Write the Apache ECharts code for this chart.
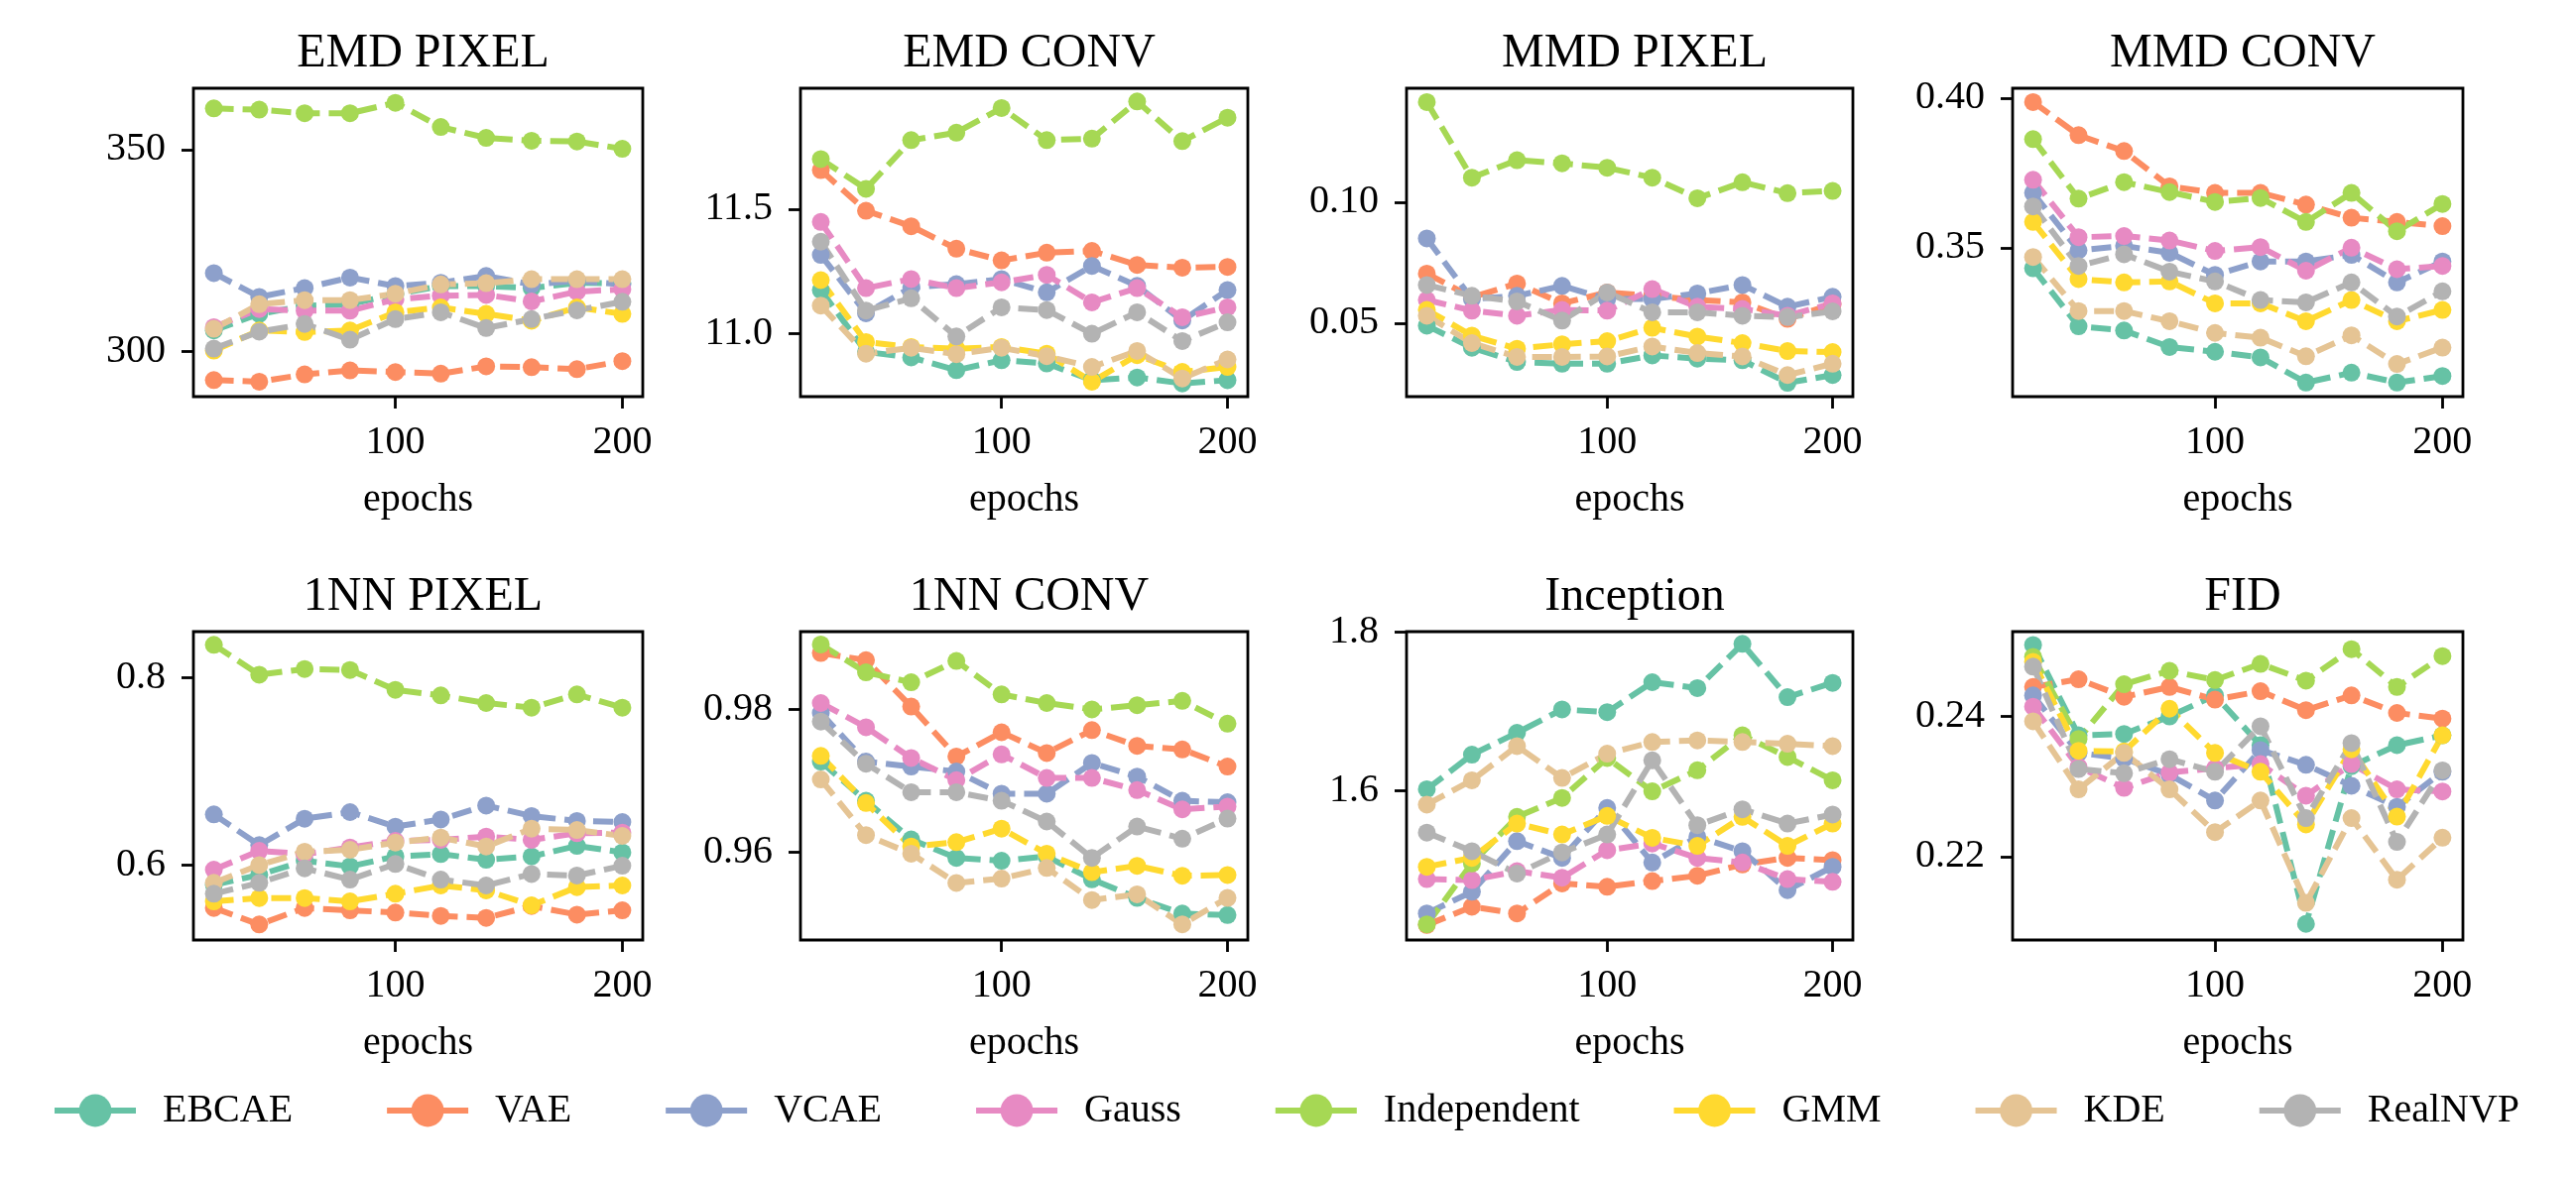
<!DOCTYPE html>
<html>
<head>
<meta charset="utf-8">
<script src="https://cdn.jsdelivr.net/npm/echarts@6/dist/echarts.min.js"></script>
<style>html,body{margin:0;padding:0;background:#fff;}#c{width:2597px;height:1187px;}</style>
</head>
<body>
<div id="c"></div>
<script>
// ---------- DATA ----------
const epochs = [20, 40, 60, 80, 100, 120, 140, 160, 180, 200];
const seriesNames = ['EBCAE', 'VAE', 'VCAE', 'Gauss', 'Independent', 'GMM', 'KDE', 'RealNVP'];
const panelTitles = ['EMD PIXEL', 'EMD CONV', 'MMD PIXEL', 'MMD CONV', '1NN PIXEL', '1NN CONV', 'Inception', 'FID'];
const xTicks = [100, 200];
const yTicks = [[300, 350], [11.0, 11.5], [0.05, 0.10], [0.35, 0.40], [0.6, 0.8], [0.96, 0.98], [1.6, 1.8], [0.22, 0.24]];
const yDecimals = [0, 1, 2, 2, 1, 2, 1, 2];
const yMin = [288.8, 10.748, 0.0197, 0.3002, 0.5196, 0.9477, 1.4105, 0.2081];
const yMax = [365.2, 11.984, 0.147, 0.4033, 0.8487, 0.9909, 1.8008, 0.2521];

// each panel: rows in seriesNames order
const emdPixel = [
  [305.2, 309.3, 311.3, 311.7, 314.2, 316.2, 316.2, 315.7, 317.0, 316.9],
  [292.9, 292.5, 294.3, 295.3, 294.9, 294.5, 296.3, 296.1, 295.6, 297.6],
  [319.4, 313.5, 315.7, 318.3, 316.2, 317.0, 318.7, 316.6, 317.5, 316.6],
  [306.0, 310.5, 310.1, 310.1, 312.9, 313.8, 314.0, 312.4, 314.8, 315.4],
  [360.2, 359.9, 359.0, 359.0, 361.6, 355.6, 352.9, 352.2, 352.0, 350.2],
  [300.2, 305.2, 304.8, 305.2, 309.7, 310.9, 309.3, 307.6, 310.9, 309.3],
  [305.6, 311.7, 312.7, 312.7, 314.3, 316.6, 316.9, 317.9, 317.9, 317.9],
  [300.7, 304.9, 306.8, 302.9, 308.0, 309.7, 305.8, 308.0, 310.2, 312.3]
];
const emdConv = [
  [11.175, 10.927, 10.905, 10.854, 10.894, 10.881, 10.814, 10.825, 10.801, 10.814],
  [11.656, 11.493, 11.431, 11.341, 11.294, 11.325, 11.332, 11.276, 11.265, 11.268],
  [11.316, 11.082, 11.186, 11.199, 11.219, 11.166, 11.272, 11.192, 11.053, 11.175],
  [11.448, 11.183, 11.219, 11.183, 11.206, 11.236, 11.126, 11.183, 11.066, 11.106],
  [11.700, 11.581, 11.776, 11.806, 11.905, 11.776, 11.782, 11.931, 11.772, 11.866],
  [11.215, 10.967, 10.947, 10.940, 10.947, 10.920, 10.808, 10.914, 10.847, 10.867],
  [11.113, 10.920, 10.944, 10.918, 10.944, 10.910, 10.867, 10.931, 10.821, 10.897],
  [11.369, 11.093, 11.142, 10.989, 11.106, 11.095, 11.000, 11.086, 10.971, 11.046]
];
const mmdPixel = [
  [0.0490, 0.0399, 0.0340, 0.0333, 0.0333, 0.0367, 0.0354, 0.0347, 0.0254, 0.0286],
  [0.0705, 0.0607, 0.0664, 0.0582, 0.0627, 0.0613, 0.0596, 0.0586, 0.0518, 0.0579],
  [0.0850, 0.0600, 0.0613, 0.0654, 0.0600, 0.0600, 0.0623, 0.0658, 0.0568, 0.0609],
  [0.0596, 0.0552, 0.0531, 0.0555, 0.0552, 0.0641, 0.0568, 0.0559, 0.0531, 0.0582],
  [0.1413, 0.1101, 0.1173, 0.1160, 0.1142, 0.1101, 0.1016, 0.1082, 0.1037, 0.1046],
  [0.0555, 0.0449, 0.0395, 0.0413, 0.0426, 0.0481, 0.0445, 0.0418, 0.0385, 0.0381],
  [0.0531, 0.0418, 0.0361, 0.0361, 0.0363, 0.0404, 0.0377, 0.0363, 0.0286, 0.0333],
  [0.0658, 0.0613, 0.0590, 0.0511, 0.0627, 0.0545, 0.0545, 0.0531, 0.0525, 0.0549]
];
const mmdConv = [
  [0.3431, 0.3237, 0.3223, 0.3168, 0.3152, 0.3133, 0.3049, 0.3082, 0.3049, 0.3071],
  [0.3987, 0.3876, 0.3823, 0.3705, 0.3683, 0.3683, 0.3644, 0.3600, 0.3586, 0.3572],
  [0.3683, 0.3491, 0.3506, 0.3483, 0.3409, 0.3454, 0.3454, 0.3476, 0.3384, 0.3454],
  [0.3727, 0.3535, 0.3539, 0.3524, 0.3489, 0.3502, 0.3423, 0.3500, 0.3428, 0.3439],
  [0.3863, 0.3664, 0.3719, 0.3686, 0.3653, 0.3666, 0.3586, 0.3683, 0.3555, 0.3646],
  [0.3586, 0.3395, 0.3384, 0.3387, 0.3314, 0.3314, 0.3254, 0.3325, 0.3254, 0.3292],
  [0.3469, 0.3288, 0.3288, 0.3254, 0.3215, 0.3199, 0.3137, 0.3207, 0.3111, 0.3166],
  [0.3638, 0.3439, 0.3478, 0.3420, 0.3387, 0.3325, 0.3317, 0.3384, 0.3270, 0.3354]
];
const nnPixel = [
  [0.5785, 0.5891, 0.6042, 0.5982, 0.6088, 0.6113, 0.6053, 0.6088, 0.6201, 0.6131],
  [0.5538, 0.5362, 0.5538, 0.5513, 0.5489, 0.5453, 0.5432, 0.5559, 0.5467, 0.5513],
  [0.6536, 0.6208, 0.6490, 0.6561, 0.6406, 0.6483, 0.6631, 0.6519, 0.6466, 0.6455],
  [0.5947, 0.6148, 0.6113, 0.6183, 0.6254, 0.6265, 0.6300, 0.6265, 0.6335, 0.6342],
  [0.8346, 0.8028, 0.8088, 0.8078, 0.7866, 0.7806, 0.7725, 0.7676, 0.7817, 0.7676],
  [0.5608, 0.5644, 0.5644, 0.5608, 0.5690, 0.5778, 0.5725, 0.5566, 0.5760, 0.5778],
  [0.5806, 0.5996, 0.6138, 0.6159, 0.6236, 0.6289, 0.6194, 0.6384, 0.6370, 0.6307],
  [0.5690, 0.5806, 0.5961, 0.5841, 0.6007, 0.5841, 0.5778, 0.5901, 0.5884, 0.5989]
];
const nnConv = [
  [0.9727, 0.9672, 0.9618, 0.9592, 0.9588, 0.9594, 0.9562, 0.9536, 0.9514, 0.9512],
  [0.9879, 0.9869, 0.9804, 0.9734, 0.9768, 0.9739, 0.9771, 0.9749, 0.9744, 0.9720],
  [0.9795, 0.9727, 0.9720, 0.9713, 0.9682, 0.9682, 0.9725, 0.9706, 0.9672, 0.9670],
  [0.9809, 0.9775, 0.9732, 0.9701, 0.9737, 0.9704, 0.9704, 0.9687, 0.9660, 0.9664],
  [0.9891, 0.9852, 0.9838, 0.9868, 0.9821, 0.9809, 0.9800, 0.9806, 0.9812, 0.9780],
  [0.9735, 0.9669, 0.9608, 0.9614, 0.9633, 0.9598, 0.9572, 0.9581, 0.9567, 0.9568],
  [0.9702, 0.9624, 0.9598, 0.9557, 0.9563, 0.9578, 0.9533, 0.9541, 0.9499, 0.9536],
  [0.9783, 0.9724, 0.9684, 0.9684, 0.9672, 0.9643, 0.9592, 0.9636, 0.9619, 0.9647]
];
const inception = [
  [1.6013, 1.6451, 1.6728, 1.7023, 1.6989, 1.7368, 1.7293, 1.7853, 1.7179, 1.7360],
  [1.4295, 1.4526, 1.4442, 1.4821, 1.4779, 1.4851, 1.4918, 1.5061, 1.5145, 1.5116],
  [1.4442, 1.4716, 1.5356, 1.5145, 1.5777, 1.5086, 1.5411, 1.5229, 1.4737, 1.5032],
  [1.4876, 1.4863, 1.4977, 1.4893, 1.5242, 1.5326, 1.5145, 1.5086, 1.4876, 1.4842],
  [1.4303, 1.5074, 1.5663, 1.5903, 1.6408, 1.5987, 1.6253, 1.6695, 1.6421, 1.6126],
  [1.5032, 1.5145, 1.5579, 1.5440, 1.5676, 1.5398, 1.5297, 1.5663, 1.5297, 1.5579],
  [1.5819, 1.6126, 1.6560, 1.6156, 1.6463, 1.6611, 1.6632, 1.6611, 1.6589, 1.6560],
  [1.5465, 1.5229, 1.4947, 1.5213, 1.5440, 1.6379, 1.5558, 1.5760, 1.5579, 1.5693]
];
const fid = [
  [0.2502, 0.2373, 0.2375, 0.2400, 0.2430, 0.2359, 0.2104, 0.2329, 0.2359, 0.2373],
  [0.2442, 0.2453, 0.2428, 0.2442, 0.2424, 0.2436, 0.2409, 0.2430, 0.2405, 0.2397],
  [0.2430, 0.2348, 0.2340, 0.2317, 0.2280, 0.2352, 0.2331, 0.2301, 0.2271, 0.2321],
  [0.2414, 0.2328, 0.2298, 0.2320, 0.2326, 0.2332, 0.2287, 0.2332, 0.2296, 0.2293],
  [0.2485, 0.2368, 0.2446, 0.2465, 0.2452, 0.2475, 0.2451, 0.2496, 0.2442, 0.2486],
  [0.2478, 0.2351, 0.2350, 0.2411, 0.2348, 0.2321, 0.2246, 0.2353, 0.2257, 0.2373],
  [0.2393, 0.2296, 0.2348, 0.2296, 0.2235, 0.2280, 0.2134, 0.2255, 0.2167, 0.2227],
  [0.2471, 0.2325, 0.2319, 0.2339, 0.2321, 0.2386, 0.2255, 0.2362, 0.2221, 0.2323]
];
const panels = [emdPixel, emdConv, mmdPixel, mmdConv, nnPixel, nnConv, inception, fid];

// ---------- STYLE ----------
const colors = ['#66c2a5', '#fc8d62', '#8da0cb', '#e78ac3', '#a6d854', '#ffd92f', '#e5c494', '#b3b3b3'];
const FONT = 'Liberation Serif';
const colLeft = [195, 807, 1418, 2029];
const colRight = [648, 1258, 1868, 2483];
const rowTop = [89, 637];
const rowBottom = [400, 948];

const grid = [], xAxis = [], yAxis = [], title = [], series = [];
for (let p = 0; p < 8; p++) {
  const r = Math.floor(p / 4), c = p % 4;
  const left = colLeft[c], top = rowTop[r];
  const w = colRight[c] - left, h = rowBottom[r] - top;
  grid.push({left: left, top: top, width: w, height: h, show: true,
    borderColor: '#000', borderWidth: 2.8, backgroundColor: 'transparent'});
  title.push({text: panelTitles[p], left: left + w / 2, top: top - 64, textAlign: 'center',
    textStyle: {fontFamily: FONT, fontSize: 48, fontWeight: 'normal', color: '#000'}});
  xAxis.push({gridIndex: p, type: 'value', min: 11, max: 209,
    axisLine: {show: false},
    axisTick: {show: true, length: 12, customValues: xTicks, lineStyle: {color: '#000', width: 2.8}},
    axisLabel: {customValues: xTicks, fontFamily: FONT, fontSize: 40, color: '#000', margin: 26},
    splitLine: {show: false},
    name: 'epochs', nameLocation: 'middle', nameGap: 84,
    nameTextStyle: {fontFamily: FONT, fontSize: 40, color: '#000', verticalAlign: 'top'}
  });
  const dec = yDecimals[p];
  yAxis.push({gridIndex: p, type: 'value', min: yMin[p], max: yMax[p],
    axisLine: {show: false},
    axisTick: {show: true, length: 12, customValues: yTicks[p], lineStyle: {color: '#000', width: 2.8}},
    axisLabel: {customValues: yTicks[p], fontFamily: FONT, fontSize: 40, color: '#000', margin: 28,
      formatter: v => Number(v).toFixed(dec)},
    splitLine: {show: false}
  });
  for (let s = 0; s < 8; s++) {
    series.push({
      type: 'line', name: seriesNames[s], xAxisIndex: p, yAxisIndex: p,
      data: epochs.map((e, k) => [e, panels[p][s][k]]),
      symbol: 'circle', symbolSize: 18, showSymbol: true,
      lineStyle: {color: colors[s], width: 6, type: [20, 9]},
      itemStyle: {color: colors[s], borderWidth: 0},
      emphasis: {disabled: true}
    });
  }
}

const chart = echarts.init(document.getElementById('c'), null, {renderer: 'canvas'});
chart.setOption({
  animation: false,
  color: colors,
  title: title,
  grid: grid,
  xAxis: xAxis,
  yAxis: yAxis,
  legend: {
    data: seriesNames, left: 47, top: 1095, orient: 'horizontal',
    itemWidth: 82, itemHeight: 41, itemGap: 92,
    lineStyle: {width: 6, type: 'solid'},
    textStyle: {fontFamily: FONT, fontSize: 40, color: '#000', padding: [0, 0, 0, 22]}
  },
  series: series
});
</script>
</body>
</html>
